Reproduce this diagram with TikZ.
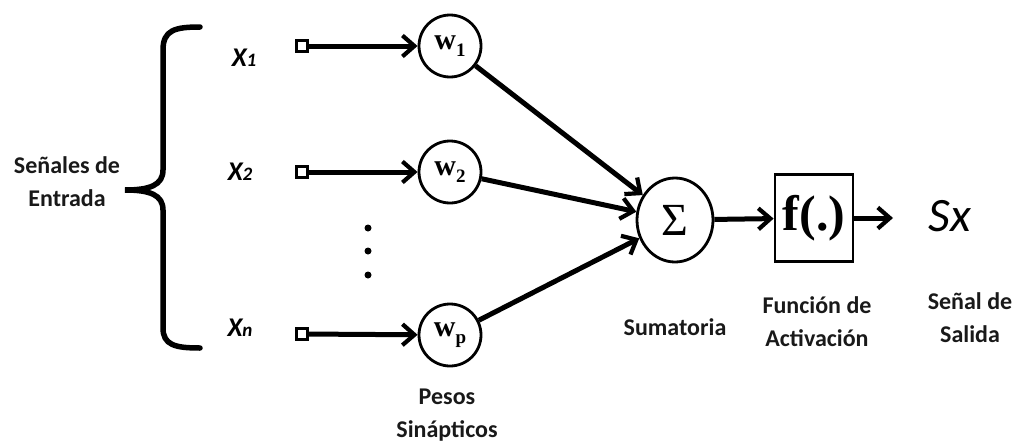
\documentclass[tikz,border=0pt]{standalone}
\usepackage{fontspec}
\setmainfont{Carlito}
\newfontfamily\serf{Liberation Serif}
\usetikzlibrary{arrows.meta,shapes.geometric}
\begin{document}
\begin{tikzpicture}[x=1pt,y=-1pt,
  lbl/.style={font=\fontsize{24}{33}\selectfont\bfseries, align=center, text=black!90},
  xin/.style={font=\fontsize{27}{27}\selectfont\bfseries\itshape},
  inbox/.style={draw, line width=2.2, minimum size=11, inner sep=0},
  wnode/.style={draw, circle, line width=2.8, minimum size=62, inner sep=0, font=\serf\fontsize{30}{30}\selectfont\bfseries},
  arr/.style={line width=5, -{Straight Barb[length=12,width=21,line width=4.2]}}]
\useasboundingbox (0,0) rectangle (1018,442);
% brace
\draw[line width=5.5, line cap=round] (200,27) .. controls (175,27) and (163,30) .. (163,50) -- (163,170)
  .. controls (163,185) and (150,190) .. (125,190) .. controls (150,190) and (163,195) .. (163,210)
  -- (163,328) .. controls (163,345) and (175,348) .. (200,348);
\node[lbl] (entrada) at (67,182) {Señales de\\Entrada};
% inputs
\node[xin] (x1) at (244,58) {X\fontsize{19}{19}\selectfont 1};
\node[xin] (x2) at (240,172) {X\fontsize{19}{19}\selectfont 2};
\node[xin] (xn) at (240,328) {X\fontsize{19}{19}\selectfont n};
\node[inbox] (s1) at (302,46) {};
\node[inbox] (s2) at (302,172) {};
\node[inbox] (sp) at (302,334) {};
\node[wnode] (w1) at (450,46) {w\raisebox{-7pt}{\fontsize{19}{19}\selectfont 1}};
\node[wnode] (w2) at (450,172) {w\raisebox{-7pt}{\fontsize{19}{19}\selectfont 2}};
\node[wnode] (wp) at (450,335) {w\raisebox{-7pt}{\fontsize{19}{19}\selectfont p}};
\draw[arr] (s1) -- (w1);
\draw[arr] (s2) -- (w2);
\draw[arr] (sp) -- (wp);
% dots
\fill (368,228) circle (3.5);
\fill (368,251) circle (3.5);
\fill (368,275) circle (3.5);
% summation
\node[draw, ellipse, line width=2.8, minimum width=76, minimum height=84, inner sep=0, font=\serf\fontsize{46}{46}\selectfont] (sum) at (675,220) {Σ};
\node[draw, rectangle, line width=2.8, minimum width=78, minimum height=87, inner sep=0, font=\serf\fontsize{50}{50}\selectfont\bfseries] (f) at (814,218) {f(.)};
\draw[arr] (w1) -- (sum);
\draw[arr] (w2) -- (sum);
\draw[arr] (wp) -- (sum);
\draw[arr] (sum) -- (f);
\coordinate (out) at (893,218);
\draw[arr] (f) -- (out);
\node[font=\fontsize{48}{48}\selectfont\itshape] (sx) at (950,216) {Sx};
% labels
\node[lbl] (pesos) at (447,415) {Pesos\\Sinápticos};
\node[lbl] (suma) at (675,327) {Sumatoria};
\node[lbl] (func) at (817,322) {Función de\\Activación};
\node[lbl] (salida) at (970,318) {Señal de\\Salida};
\end{tikzpicture}
\end{document}
